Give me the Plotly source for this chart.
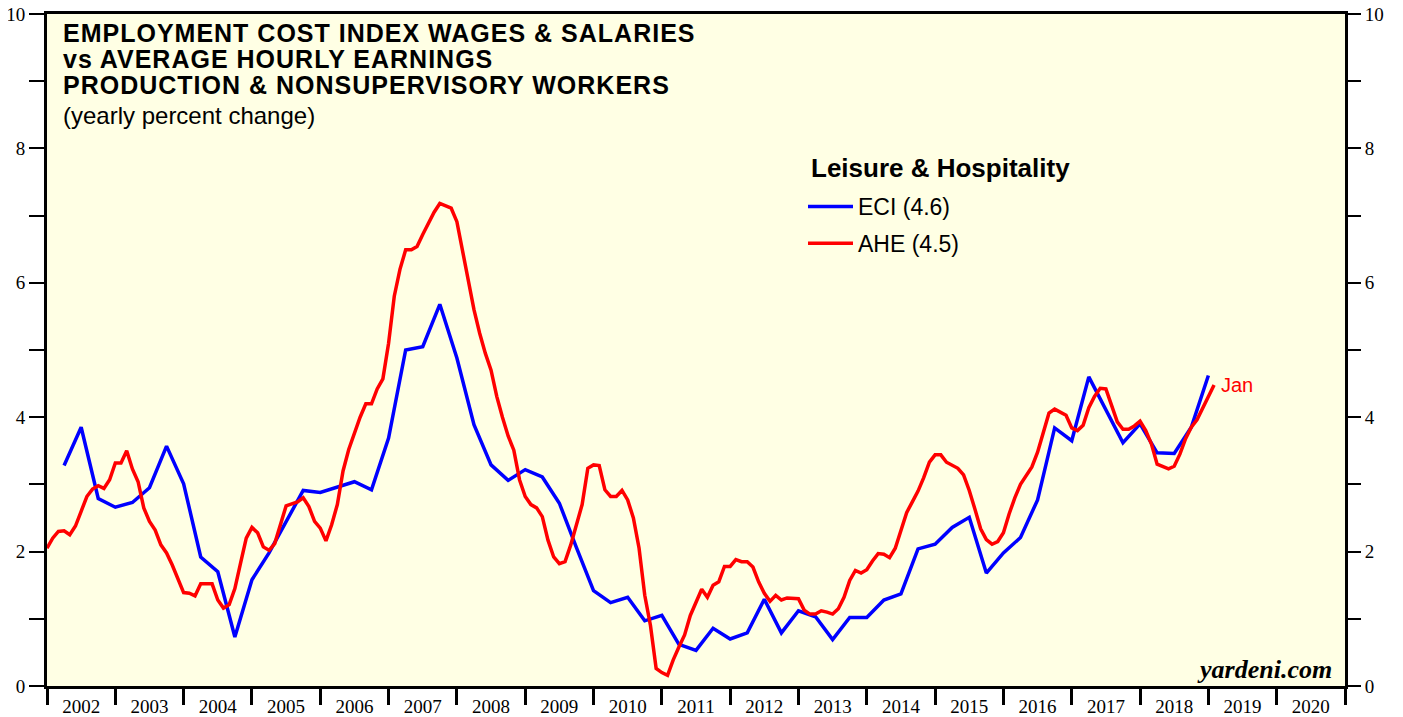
import plotly.graph_objects as go

# ---------------- data ----------------
# ECI wages & salaries, leisure & hospitality, yearly % change, quarterly Q1 2002 .. Q4 2018
eci_start_year = 2002
eci_values = [
    3.28, 3.85, 2.79, 2.66,   # 2002
    2.73, 2.95, 3.57, 3.01,   # 2003
    1.92, 1.70, 0.73, 1.58,   # 2004
    1.98, 2.45, 2.91, 2.88,   # 2005
    2.96, 3.04, 2.92, 3.69,   # 2006
    5.00, 5.05, 5.68, 4.88,   # 2007
    3.89, 3.29, 3.06, 3.22,   # 2008
    3.11, 2.72, 2.06, 1.42,   # 2009
    1.24, 1.32, 0.97, 1.05,   # 2010
    0.62, 0.53, 0.86, 0.70,   # 2011
    0.79, 1.29, 0.79, 1.12,   # 2012
    1.03, 0.69, 1.02, 1.02,   # 2013
    1.28, 1.37, 2.04, 2.11,   # 2014
    2.36, 2.51, 1.68, 1.98,   # 2015
    2.21, 2.77, 3.84, 3.65,   # 2016
    4.60, 4.10, 3.62, 3.90,   # 2017
    3.47, 3.46, 3.85, 4.62,   # 2018
]

# AHE production & nonsupervisory workers, leisure & hospitality, yearly % change, monthly Dec 2001 .. Jan 2019
ahe_start = (2001, 12)
ahe_values = [
    2.05,                                                                      # Dec 2001
    2.20, 2.30, 2.31, 2.25, 2.38, 2.60, 2.82, 2.93, 2.98, 2.94, 3.07, 3.32,    # 2002
    3.32, 3.50, 3.23, 3.04, 2.65, 2.45, 2.32, 2.10, 1.98, 1.80, 1.60, 1.39,    # 2003
    1.38, 1.34, 1.52, 1.52, 1.52, 1.28, 1.16, 1.21, 1.45, 1.83, 2.20, 2.36,    # 2004
    2.28, 2.07, 2.02, 2.12, 2.40, 2.68, 2.71, 2.74, 2.80, 2.67, 2.45, 2.35,    # 2005
    2.16, 2.40, 2.70, 3.20, 3.52, 3.78, 4.00, 4.20, 4.20, 4.42, 4.57, 5.10,    # 2006
    5.80, 6.20, 6.49, 6.49, 6.54, 6.72, 6.89, 7.05, 7.18, 7.14, 7.11, 6.91,    # 2007
    6.45, 6.00, 5.60, 5.25, 4.95, 4.70, 4.31, 4.00, 3.72, 3.51, 3.07, 2.82,    # 2008
    2.70, 2.65, 2.52, 2.17, 1.92, 1.82, 1.85, 2.10, 2.42, 2.70, 3.24, 3.29,    # 2009
    3.28, 2.92, 2.82, 2.82, 2.91, 2.77, 2.50, 2.05, 1.35, 0.90, 0.26, 0.20,    # 2010
    0.16, 0.39, 0.58, 0.76, 1.05, 1.25, 1.44, 1.32, 1.50, 1.55, 1.78, 1.78,    # 2011
    1.88, 1.85, 1.85, 1.77, 1.55, 1.38, 1.26, 1.35, 1.28, 1.31, 1.31, 1.30,    # 2012
    1.13, 1.07, 1.07, 1.12, 1.10, 1.07, 1.15, 1.32, 1.57, 1.72, 1.68, 1.73,    # 2013
    1.86, 1.97, 1.96, 1.91, 2.05, 2.32, 2.58, 2.74, 2.90, 3.10, 3.33, 3.44,    # 2014
    3.44, 3.33, 3.28, 3.24, 3.14, 2.91, 2.63, 2.34, 2.18, 2.11, 2.15, 2.28,    # 2015
    2.56, 2.80, 3.00, 3.13, 3.26, 3.48, 3.77, 4.06, 4.12, 4.08, 4.03, 3.84,    # 2016
    3.80, 3.88, 4.14, 4.31, 4.43, 4.42, 4.16, 3.93, 3.82, 3.82, 3.87, 3.94,    # 2017
    3.80, 3.60, 3.30, 3.26, 3.23, 3.27, 3.45, 3.68, 3.85, 3.96, 4.14, 4.30,    # 2018
    4.48,                                                                      # Jan 2019
]

year_labels = [str(y) for y in range(2002, 2021)]
year_bounds = list(range(2002, 2022))
y_major = [0, 2, 4, 6, 8, 10]
y_minor = [1, 3, 5, 7, 9]

title_lines = [
    "EMPLOYMENT COST INDEX WAGES & SALARIES",
    "vs AVERAGE HOURLY EARNINGS",
    "PRODUCTION & NONSUPERVISORY WORKERS",
]
subtitle = "(yearly percent change)"
legend_title = "Leisure & Hospitality"
eci_name = "ECI (4.6)"
ahe_name = "AHE (4.5)"

# ---------------- positions on a decimal-year scale ----------------
eci_x = [eci_start_year + (i + 1) * 0.25 for i in range(len(eci_values))]
ahe_x = [ahe_start[0] + (ahe_start[1] + i) / 12.0 for i in range(len(ahe_values))]

SANS = "Liberation Sans, Arial, sans-serif"
SERIF = "Liberation Serif, Times New Roman, serif"

fig = go.Figure()
fig.add_trace(go.Scatter(
    x=eci_x, y=eci_values, mode="lines", name=eci_name,
    line=dict(color="#0000FF", width=3.5), legendgroup="eci",
))
fig.add_trace(go.Scatter(
    x=ahe_x, y=ahe_values, mode="lines", name=ahe_name,
    line=dict(color="#FF0000", width=3.5), legendgroup="ahe", yaxis="y2",
))

# page body has an 8px offset; figure is sized so the plot frame lands on
# x 47..1345, y 14..686 of the 1403x717 window
OFF = 8
W, H = 1403 - OFF, 717 - OFF
L, R, T, B = 47 - OFF, 58, 14 - OFF, 31
PW, PH = W - L - R, H - T - B


def px_x(px):
    return (px - OFF - L) / PW


def px_y(py):
    return (OFF + H - B - py) / PH


annotations = []
for line, ypx in zip(title_lines, [33, 59, 85]):
    annotations.append(dict(
        xref="paper", yref="paper", x=px_x(61), y=px_y(ypx), xanchor="left", yanchor="middle",
        text='<span style="letter-spacing:1px"><b>%s</b></span>' % line, showarrow=False,
        font=dict(family=SANS, size=25, color="black"),
    ))
annotations.append(dict(
    xref="paper", yref="paper", x=px_x(61), y=px_y(115), xanchor="left", yanchor="middle",
    text=subtitle, showarrow=False, font=dict(family=SANS, size=24, color="black"),
))
annotations.append(dict(
    xref="paper", yref="paper", x=px_x(809), y=px_y(168), xanchor="left", yanchor="middle",
    text="<b>%s</b>" % legend_title, showarrow=False,
    font=dict(family=SANS, size=26, color="black"),
))
annotations.append(dict(
    xref="x", yref="y", x=ahe_x[-1], y=ahe_values[-1], xanchor="left", yanchor="middle",
    xshift=5, text="Jan", showarrow=False, font=dict(family=SANS, size=20, color="#FF0000"),
))
annotations.append(dict(
    xref="paper", yref="paper", x=1, y=0, xanchor="right", yanchor="bottom",
    xshift=-11, yshift=0, text="<b><i>yardeni.com</i></b>", showarrow=False,
    font=dict(family=SERIF, size=26, color="black"),
))

tickfont = dict(family=SERIF, size=19, color="black")

fig.update_layout(
    width=W, height=H,
    margin=dict(l=L, r=R, t=T, b=B, pad=0, autoexpand=False),
    paper_bgcolor="white", plot_bgcolor="#FFFFE4",
    annotations=annotations,
    showlegend=True,
    legend=dict(
        x=px_x(803), y=px_y(185), xanchor="left", yanchor="top",
        bgcolor="rgba(0,0,0,0)", borderwidth=0, itemwidth=45,
        font=dict(family=SANS, size=23, color="black"),
        tracegroupgap=4,
    ),
    xaxis=dict(
        range=[2002, 2021], tickmode="array", automargin=False,
        tickvals=[y + 0.5 for y in range(2002, 2021)], ticktext=year_labels,
        ticks="outside", ticklen=1, tickcolor="rgba(0,0,0,0)", tickfont=tickfont,
        showgrid=False, zeroline=False,
        showline=True, linecolor="black", linewidth=3, mirror=True,
        minor=dict(tickmode="array", tickvals=year_bounds, ticks="outside",
                   ticklen=16, tickwidth=3, tickcolor="black", showgrid=False),
    ),
    yaxis=dict(
        range=[0, 10], tickmode="array", tickvals=y_major, automargin=False,
        ticklabeloverflow="allow",
        ticks="outside", ticklen=15, tickwidth=1.5, tickcolor="black", tickfont=tickfont,
        showgrid=False, zeroline=False,
        showline=True, linecolor="black", linewidth=3, mirror=True,
        minor=dict(tickmode="array", tickvals=y_minor, ticks="outside",
                   ticklen=15, tickwidth=1.5, tickcolor="black", showgrid=False),
    ),
    yaxis2=dict(
        range=[0, 10], tickmode="array", tickvals=y_major, overlaying="y", side="right",
        automargin=False, ticklabeloverflow="allow",
        ticks="outside", ticklen=15, tickwidth=1.5, tickcolor="black", tickfont=tickfont,
        showgrid=False, zeroline=False, showline=False,
        minor=dict(tickmode="array", tickvals=y_minor, ticks="outside",
                   ticklen=15, tickwidth=1.5, tickcolor="black", showgrid=False),
    ),
)

fig.write_html("out.html")
